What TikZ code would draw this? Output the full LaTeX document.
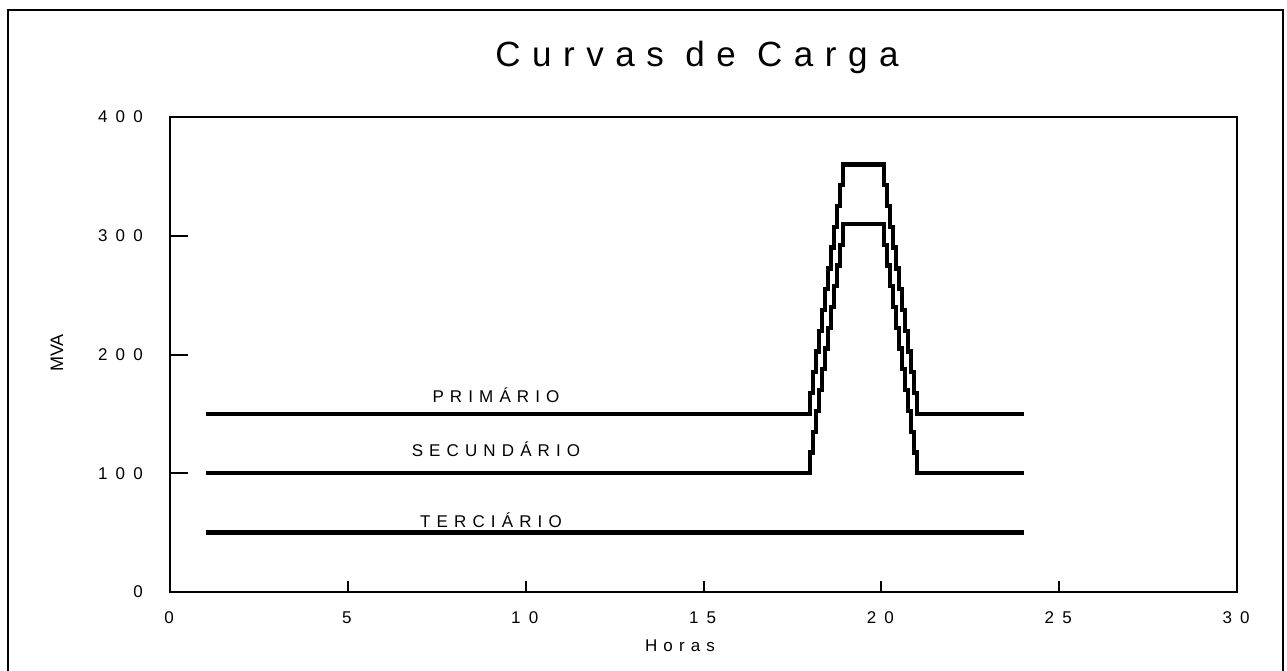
\documentclass[tikz,border=0pt]{standalone}
\usepackage{fontspec}
\setmainfont{Liberation Sans}
\newfontfamily\titlefont[LetterSpace=33]{Liberation Sans}
\newfontfamily\labfont[LetterSpace=36]{Liberation Sans}
\newfontfamily\numfont[LetterSpace=48]{Liberation Sans}
\begin{document}
\begin{tikzpicture}[x=1pt,y=-1pt,
  axisline/.style={line width=2pt},
  curve/.style={line width=4.3pt},
  frameline/.style={line width=1.5pt},
  ticklab/.style={font=\fontsize{17}{17}\selectfont\numfont, inner sep=0pt},
  curvelab/.style={font=\fontsize{17}{17}\selectfont\labfont, inner sep=0pt, anchor=base},
  axlab/.style={font=\fontsize{18}{18}\selectfont, inner sep=0pt}]
\useasboundingbox (0,0) rectangle (1287,671);
\draw[frameline] (8,671) -- (8,10) -- (1283,10) -- (1283,671);
\node[font=\fontsize{35}{35}\selectfont\titlefont, inner sep=0pt, anchor=base] (title) at (697,67) {Curvas de Carga};
\node[axlab, rotate=90] (ylab) at (57,353) {MVA};
\node[curvelab] (hlab) at (680,651) {Horas};
\begin{scope}[shift={(170,592)}, x=35.57pt, y=1.1875pt]
  \draw[axisline] (0,0) rectangle (30,400);
  \foreach \v in {100,200,300}
    \draw[axisline] (0,\v) -- ++(0.506,0);
  \foreach \h in {5,10,15,20,25}
    \draw[axisline] (\h,0) -- ++(0,9.3);
  \foreach \v/\n in {0/y0,100/y1,200/y2,300/y3,400/y4}
    \node[ticklab, anchor=east] (\n) at ([xshift=-27pt]0,\v) {\v};
  \node[ticklab] (x0) at ([xshift=-1pt,yshift=-26pt]0,0) {0};
  \foreach \h/\n in {5/x5,10/x10,15/x15,20/x20,25/x25,30/x30}
    \node[ticklab] (\n) at ([xshift=-1pt,yshift=-26pt]\h,0) {\h};
  % primario
  \draw[curve] (1,150) -- (18,150)
    \foreach \k in {1,...,12}{ -- ++(0,17.5) -- ++(1/12,0) }
    -- (20.08,360)
    \foreach \k in {1,...,12}{ -- ++(0,-17.5) -- ++(1/12,0) }
    -- (24,150);
  % secundario
  \draw[curve] (1,100) -- (18,100)
    \foreach \k in {1,...,12}{ -- ++(0,17.5) -- ++(1/12,0) }
    -- (20.08,310)
    \foreach \k in {1,...,12}{ -- ++(0,-17.5) -- ++(1/12,0) }
    -- (24,100);
  % terciario
  \draw[curve] (1,50) -- (24,50);
\end{scope}
\node[curvelab] (prim) at (496,402) {PRIMÁRIO};
\node[curvelab] (sec) at (496,456) {SECUNDÁRIO};
\node[curvelab] (ter) at (491,527) {TERCIÁRIO};
\end{tikzpicture}
\end{document}
